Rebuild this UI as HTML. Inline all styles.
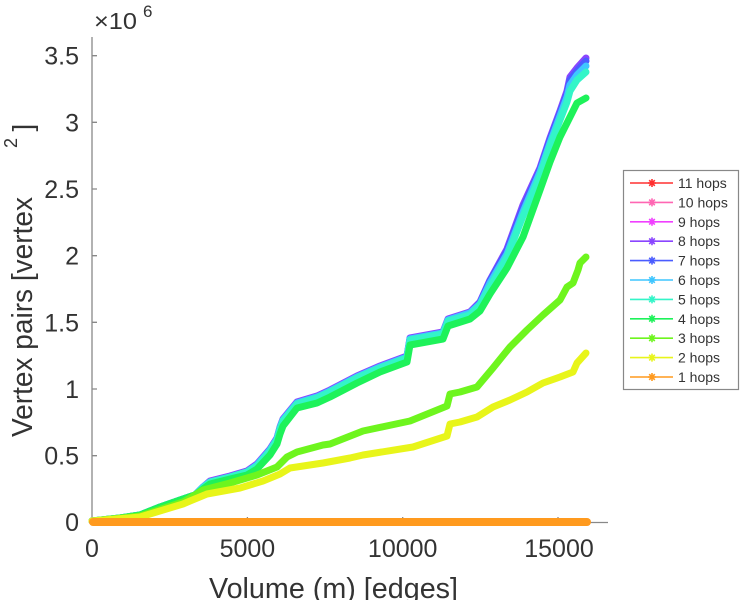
<!DOCTYPE html>
<html><head><meta charset="utf-8"><style>
html,body{margin:0;padding:0;background:#fff;}
svg{display:block;}
text{font-family:"Liberation Sans",Arial,sans-serif;fill:#333;}
</style></head><body>
<svg width="743" height="600" viewBox="0 0 743 600" xmlns="http://www.w3.org/2000/svg">
<rect width="743" height="600" fill="#fff"/>
<defs>
<symbol id="st" overflow="visible"><path d="M-4 0H4M0 -4V4M-2.8 -2.8L2.8 2.8M-2.8 2.8L2.8 -2.8" stroke-width="1.6"/></symbol>
</defs>
<!-- axes -->
<g stroke="#888" stroke-width="1.3" fill="none">
<line x1="92" y1="37" x2="92" y2="522.5"/>
<line x1="91.5" y1="522.5" x2="608" y2="522.5"/>
<path d="M92 455.7h5M92 389h5M92 322.3h5M92 255.7h5M92 189h5M92 122.3h5M92 55.7h5"/>
<path d="M247.4 522v-5M402.7 522v-5M558 522v-5"/>
</g>
<!-- series -->
<g fill="none" stroke-width="7" stroke-linejoin="round" stroke-linecap="round">
<polyline stroke="#8a45ff" points="92,521 120,518 140,515 160,507 180,500 195,495 203,487 210,481 230,476 247,471 257,464 270,449 277,438 280,427 283,419 297,402 317,396 330,390 357,376 380,366 407,356 410,338 443,332 448,319 470,312 480,302 490,280 507,249 523,205 540,168 550,138 560,111 567,91 570,77 577,68 586,58"/>
<polyline stroke="#4a5cff" points="92,521 120,518 140,515 160,507 180,500 195,495 203,488 210,482 230,477 247,472 257,465 270,450 277,439 280,428 283,420 297,403 317,397 330,391 357,377 380,367 407,357 410,339 443,333 448,320 470,313 480,303 490,281 507,251 523,208 540,170 550,140 560,113 567,94 570,80 577,71 586,61"/>
<polyline stroke="#3fc6ff" points="92,521 120,518 140,515 160,507 180,500 195,495 203,487 210,482 230,477 247,472 257,465 270,450 277,439 280,428 283,420 297,403 317,397 330,391 357,377 380,367 407,357 410,339 443,333 448,320 470,313 480,304 490,283 507,254 523,212 540,172 550,143 560,116 567,97 570,85 577,75 586,66"/>
<polyline stroke="#33f5c8" points="92,521 120,518 140,515 160,507 180,500 195,495 203,488 210,482 230,477 247,472 257,466 270,451 277,440 280,429 283,421 297,404 317,398 330,392 357,378 380,368 407,358 410,340 443,334 448,321 470,315 480,305 490,287 507,257 523,216 540,176 550,146 560,120 567,102 570,91 577,80 586,72"/>
<polyline stroke="#1ef25a" points="92,521 120,518 140,515 160,507 180,500 195,495 203,489 210,484 230,479 247,475 257,469 270,455 277,444 280,434 283,426 297,408 317,403 330,397 357,383 380,372 407,362 410,345 443,339 448,326 470,319 480,311 490,294 507,268 523,237 540,190 550,162 560,137 567,123 570,117 577,103 586,98"/>
<polyline stroke="#6ef51e" points="92,521 140,516 183,502 190,498 203,490 230,483 257,475 277,467 287,457 297,452 323,445 330,444 363,431 410,421 447,406 450,394 460,392 477,387 493,368 510,347 527,330 543,315 560,300 567,287 573,283 578,270 580,263 586,257"/>
<polyline stroke="#e8f51a" points="92,521 140,517 183,504 190,501 207,494 240,488 263,481 280,474 290,468 323,463 350,458 363,455 413,447 447,436 450,424 460,422 477,417 493,407 510,400 527,392 543,383 560,377 573,372 577,363 586,353"/>
<line stroke="#ff9a1e" stroke-width="8" x1="93" y1="522" x2="587" y2="522"/>
</g>
<!-- tick labels -->
<g font-size="25" text-anchor="end">
<text x="79" y="531">0</text>
<text x="79" y="464.7">0.5</text>
<text x="79" y="398">1</text>
<text x="79" y="331.3">1.5</text>
<text x="79" y="264.7">2</text>
<text x="79" y="198">2.5</text>
<text x="79" y="131.3">3</text>
<text x="79" y="64.7">3.5</text>
</g>
<g font-size="25" text-anchor="middle">
<text x="92" y="557">0</text>
<text x="247.4" y="557">5000</text>
<text x="402.7" y="557">10000</text>
<text x="559" y="557">15000</text>
</g>
<text x="94" y="29" font-size="23" textLength="43" lengthAdjust="spacingAndGlyphs">×10</text>
<text x="143" y="17" font-size="17">6</text>
<text x="209" y="598" font-size="28.5" textLength="249" lengthAdjust="spacingAndGlyphs">Volume (m) [edges]</text>
<text transform="translate(32,437) rotate(-90)" font-size="28.5" textLength="240" lengthAdjust="spacingAndGlyphs">Vertex pairs [vertex</text>
<text transform="translate(17,148) rotate(-90)" font-size="18">2</text>
<text transform="translate(32,131.5) rotate(-90)" font-size="28">]</text>
<!-- legend -->
<rect x="623.5" y="170.5" width="115" height="219" fill="#fff" stroke="#888" stroke-width="1.2"/>
<g stroke-width="1.6" font-size="14">
<g transform="translate(0,183)" stroke="#ff3030"><line x1="630" x2="673" y1="0" y2="0"/><use href="#st" x="652" y="0"/><text x="678" y="5" stroke="none">11 hops</text></g>
<g transform="translate(0,202.4)" stroke="#ff66b3"><line x1="630" x2="673" y1="0" y2="0"/><use href="#st" x="652" y="0"/><text x="678" y="5" stroke="none">10 hops</text></g>
<g transform="translate(0,221.8)" stroke="#f040ff"><line x1="630" x2="673" y1="0" y2="0"/><use href="#st" x="652" y="0"/><text x="678" y="5" stroke="none">9 hops</text></g>
<g transform="translate(0,241.2)" stroke="#8a45ff"><line x1="630" x2="673" y1="0" y2="0"/><use href="#st" x="652" y="0"/><text x="678" y="5" stroke="none">8 hops</text></g>
<g transform="translate(0,260.6)" stroke="#4a5cff"><line x1="630" x2="673" y1="0" y2="0"/><use href="#st" x="652" y="0"/><text x="678" y="5" stroke="none">7 hops</text></g>
<g transform="translate(0,280)" stroke="#3fc6ff"><line x1="630" x2="673" y1="0" y2="0"/><use href="#st" x="652" y="0"/><text x="678" y="5" stroke="none">6 hops</text></g>
<g transform="translate(0,299.4)" stroke="#33f5c8"><line x1="630" x2="673" y1="0" y2="0"/><use href="#st" x="652" y="0"/><text x="678" y="5" stroke="none">5 hops</text></g>
<g transform="translate(0,318.8)" stroke="#1ef25a"><line x1="630" x2="673" y1="0" y2="0"/><use href="#st" x="652" y="0"/><text x="678" y="5" stroke="none">4 hops</text></g>
<g transform="translate(0,338.2)" stroke="#6ef51e"><line x1="630" x2="673" y1="0" y2="0"/><use href="#st" x="652" y="0"/><text x="678" y="5" stroke="none">3 hops</text></g>
<g transform="translate(0,357.6)" stroke="#e8f51a"><line x1="630" x2="673" y1="0" y2="0"/><use href="#st" x="652" y="0"/><text x="678" y="5" stroke="none">2 hops</text></g>
<g transform="translate(0,377)" stroke="#ff9a1e"><line x1="630" x2="673" y1="0" y2="0"/><use href="#st" x="652" y="0"/><text x="678" y="5" stroke="none">1 hops</text></g>
</g>
</svg>
</body></html>
